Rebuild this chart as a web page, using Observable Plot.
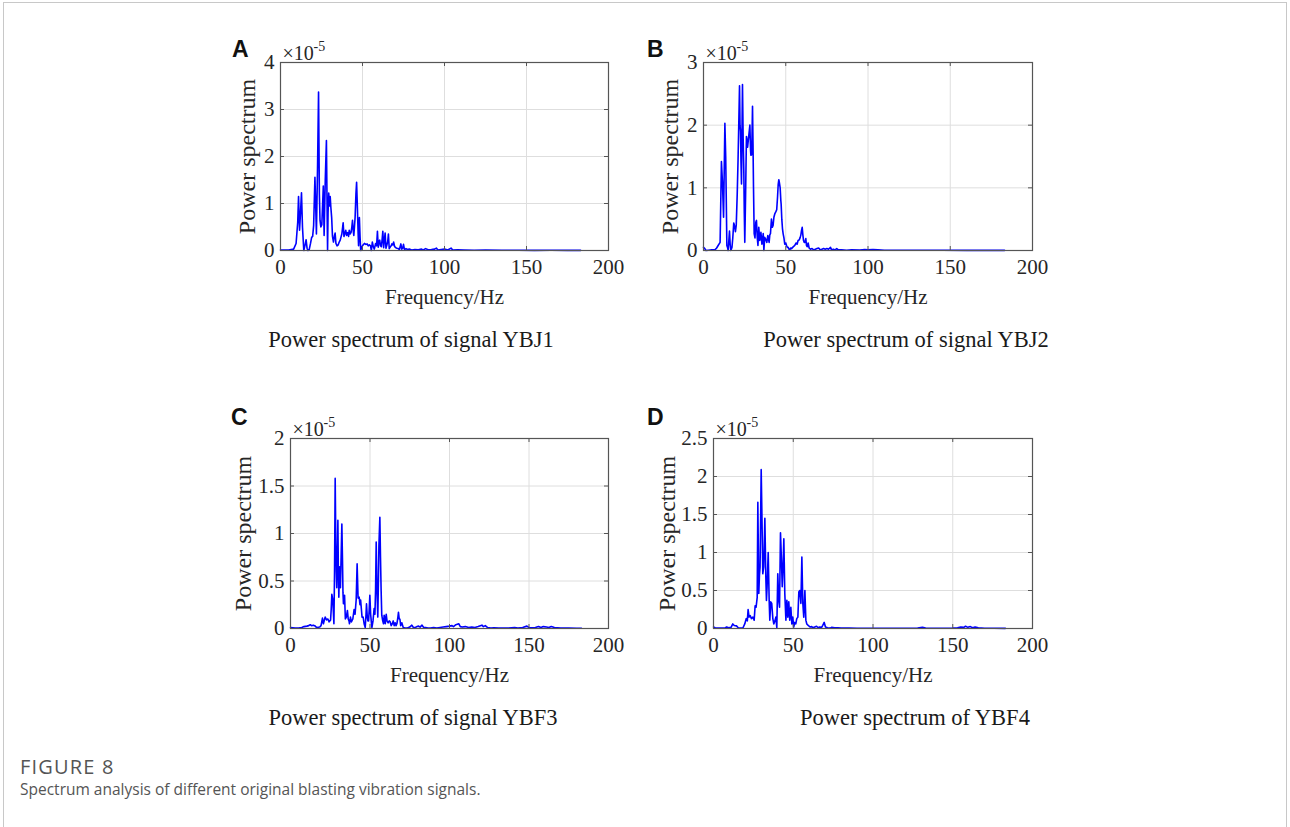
<!DOCTYPE html>
<html><head><meta charset="utf-8">
<script src="https://cdn.jsdelivr.net/npm/d3@7"></script>
<script src="https://cdn.jsdelivr.net/npm/@observablehq/plot@0.6"></script>
<style>
body{margin:0;background:#fff;}
#page{position:relative;width:1290px;height:827px;overflow:hidden;background:#fff;}
#border{position:absolute;left:3px;top:2px;width:1284px;height:900px;border:1.5px solid #c8c8c8;box-sizing:border-box;}
.panel{position:absolute;}
.letter{position:absolute;font:bold 23px "Liberation Sans",Arial,sans-serif;color:#111;line-height:normal;}
.sub{position:absolute;font:22.5px "Liberation Serif",serif;color:#1a1a1a;transform:translateX(-50%);white-space:nowrap;line-height:normal;}
.cap{position:absolute;left:20px;font-family:"Open Sans",sans-serif;color:#555;white-space:nowrap;line-height:normal;}
</style></head>
<body><div id="page"><div id="border"></div></div>
<script>
// Frequency axis (Hz) and tick labels
const xTicks = [0, 50, 100, 150, 200];
const panelLetters = ["A", "B", "C", "D"];
const subtitles = ["Power spectrum of signal YBJ1", "Power spectrum of signal YBJ2", "Power spectrum of signal YBF3", "Power spectrum of YBF4"];
const yMax = [4, 3, 2, 2.5];
const yTicksA = [0, 1, 2, 3, 4];
const yTicksB = [0, 1, 2, 3];
const yTicksC = [0, 0.5, 1, 1.5, 2];
const yTicksD = [0, 0.5, 1, 1.5, 2, 2.5];

// Power spectrum values, [frequency Hz, power ×1e-5]
const ybj1 = [[0,0.01],[5,0.01],[8,0.03],[9.5,0.15],[10.5,0.6],[11,1.15],[11.6,0.43],[12.2,0.8],[12.8,1.23],[13.4,0.5],[14.2,0],[15,0.12],[15.6,0.23],[16.2,0.05],[16.7,0],[17.5,0.02],[18.3,0.15],[19,0.28],[19.6,0.3],[20.2,0.53],[21,1.56],[21.5,0.9],[21.9,0.35],[22.6,1.8],[23.2,3.37],[23.7,1.2],[24.1,0.64],[24.6,0.5],[25.2,0.55],[25.7,1.0],[26.1,1.37],[26.6,0.32],[27.3,1.5],[28,2.34],[28.5,0.6],[28.7,0],[29.0,0.8],[29.4,1.22],[29.9,0.95],[30.3,1.15],[30.7,0.92],[31.2,0.7],[31.7,0.3],[32.3,0.18],[32.8,0.3],[33.3,0.37],[33.8,0.15],[34.5,0.1],[35.2,0.12],[35.8,0.18],[36.4,0.22],[37.0,0.3],[37.4,0.35],[37.9,0.5],[38.2,0.59],[38.7,0.3],[39.2,0.35],[39.8,0.43],[40.3,0.32],[40.9,0.38],[41.5,0.3],[41.9,0.43],[42.4,0.35],[43.0,0.38],[43.5,0.5],[43.9,0.64],[44.4,0.4],[44.7,0.32],[45.1,0.5],[45.5,0.71],[46.0,1.2],[46.4,1.45],[46.9,0.9],[47.3,0.4],[47.6,0.1],[48.1,0.7],[48.5,0.3],[48.9,0],[49.6,0.08],[50.4,0.12],[51.2,0.15],[52,0.13],[52.8,0.14],[53.5,0.1],[54.2,0.12],[54.9,0.1],[55.4,0],[56,0.18],[56.6,0.08],[57.2,0.03],[58,0.15],[58.6,0.1],[59.1,0.41],[59.6,0.07],[60.1,0.2],[60.5,0.22],[61,0.1],[61.5,0.08],[62,0.25],[62.4,0.41],[62.9,0.06],[63.4,0.25],[63.8,0.37],[64.3,0.05],[64.9,0.12],[65.4,0.2],[65.8,0.35],[66.3,0.04],[67,0.08],[67.5,0.1],[67.9,0.14],[68.5,0.12],[69,0.18],[69.6,0.08],[70.3,0.06],[71,0.05],[71.8,0.04],[72.5,0.02],[73.4,0.14],[73.9,0.03],[74.5,0.05],[75,0.13],[75.6,0.02],[76.5,0.04],[77.5,0.02],[78.5,0.03],[80,0.01],[82,0.02],[84,0.015],[86,0.03],[87,0.01],[88.5,0.04],[90,0.015],[92,0.02],[94,0.03],[95,0.05],[96,0.01],[98,0.02],[100,0.03],[102,0.01],[104,0.05],[105,0.01],[108,0.015],[112,0.01],[118,0.005],[125,0.008],[135,0.004],[145,0.005],[155,0.003],[165,0.004],[175,0.003],[183,0.002]];

const ybj2 = [[0,0.05],[0.8,0.03],[1.5,0],[3,0.005],[5,0.01],[6.9,0.01],[8,0.04],[8.9,0.08],[10.1,0.13],[10.9,1.42],[11.5,1.1],[12.2,0.53],[13,2.03],[13.5,1.5],[13.8,0.9],[14.2,0.08],[14.6,0.05],[15,0],[15.8,0.31],[16.2,0.1],[16.6,0],[17.3,0.05],[17.8,0.2],[18.4,0.44],[19,0.38],[19.4,0.3],[19.9,0.4],[20.5,0.9],[21,1.44],[21.5,2.1],[21.9,2.63],[22.2,2.0],[22.5,1.9],[22.8,1.4],[23.1,1.06],[23.4,1.9],[23.7,2.65],[24.1,1.8],[24.5,1.28],[24.8,0.6],[25.1,0.13],[25.6,0.9],[26.1,1.82],[26.5,1.75],[26.8,1.65],[27.4,1.8],[27.8,1.9],[28.2,2.0],[28.6,1.6],[28.8,1.52],[29.3,1.53],[29.8,2.3],[30.1,1.7],[30.4,1.0],[30.8,0.27],[31.3,0.2],[31.8,0.45],[32.2,0.48],[32.7,0.2],[33.1,0.08],[33.6,0.37],[34.2,0.16],[34.9,0.29],[35.5,0.1],[36.3,0.27],[36.7,0],[37.2,0.21],[37.8,0.18],[38.5,0.13],[39.1,0.24],[39.5,0.18],[39.9,0.13],[40.3,0.25],[40.7,0.27],[41.3,0.5],[41.8,0.37],[42.3,0.4],[42.8,0.53],[43.4,0.59],[44,0.62],[44.5,0.65],[45,0.85],[45.4,1.05],[45.8,1.13],[46.2,1.07],[46.6,1.0],[47.0,0.8],[47.2,0.74],[47.6,0.5],[48,0.35],[48.4,0.27],[48.9,0.2],[49.4,0.1],[50,0.12],[50.5,0.08],[51,0.05],[51.5,0.05],[52,0.02],[52.5,0.01],[53,0.04],[53.5,0.03],[54.2,0.05],[55,0.07],[55.5,0.08],[56.3,0.12],[56.9,0.1],[57.5,0.16],[58.2,0.17],[58.8,0.21],[59.2,0.25],[59.6,0.32],[60.0,0.37],[60.4,0.25],[60.8,0.16],[61.2,0.13],[61.6,0.13],[62.2,0.19],[62.6,0.08],[63,0.06],[63.6,0.12],[64.2,0.04],[65,0.02],[66,0.03],[67,0.01],[68,0.02],[69,0.03],[70,0.04],[71,0.01],[72,0.02],[73,0.03],[74,0.02],[75,0.03],[76,0.02],[77.2,0.05],[77.8,0.01],[79,0.02],[80,0.01],[81,0.03],[82,0.01],[84,0.01],[87,0.005],[90,0.01],[95,0.008],[98,0.015],[100,0.01],[103,0.015],[106,0.01],[110,0.005],[120,0.004],[130,0.003],[145,0.003],[160,0.002],[175,0.002],[183,0.002]];

const ybf3 = [[0,0.01],[3,0.005],[5,0.005],[7.1,0.01],[8.5,0.02],[10.3,0.025],[11.5,0.03],[12.4,0.04],[13.2,0.03],[14.3,0.035],[15.2,0.03],[16.5,0.01],[18.4,0.015],[19.2,0.03],[20.1,0.11],[20.7,0.05],[21.8,0.12],[22.7,0.09],[23.5,0.1],[24.3,0.07],[25.2,0.09],[25.6,0.2],[26,0.36],[26.6,0.3],[27.3,0.05],[27.7,0.6],[28.1,1.58],[28.5,0.9],[28.8,0.6],[29.1,0.43],[29.5,0.8],[29.8,1.14],[30.1,0.6],[30.4,0.33],[30.8,0.65],[31.1,0.5],[31.4,0.43],[31.9,0.8],[32.3,1.1],[32.7,0.72],[33,0.38],[33.3,0.26],[33.7,0.3],[34,0.35],[34.5,0.1],[35.1,0.12],[35.8,0.19],[36.3,0.1],[36.8,0.08],[37.1,0.05],[37.7,0.12],[38.3,0.07],[39.2,0.1],[40,0.2],[40.6,0.15],[41.3,0.3],[41.9,0.68],[42.5,0.32],[43.2,0.33],[43.7,0.25],[44.1,0.3],[44.6,0.2],[45,0.12],[45.7,0.12],[46.3,0.05],[47,0.01],[47.5,0.15],[47.8,0.26],[48.3,0.12],[48.7,0.08],[49.1,0.08],[49.5,0.2],[49.9,0.35],[50.4,0.15],[51.2,0.01],[51.9,0.08],[52.6,0.21],[53.1,0.15],[53.5,0.4],[53.9,0.91],[54.4,0.4],[54.9,0.12],[55.3,0.5],[55.6,0.87],[56.2,1.17],[56.6,0.75],[57,0.4],[57.4,0.14],[58,0.08],[58.5,0.05],[58.9,0.14],[59.3,0.1],[59.6,0.05],[60.2,0.15],[60.7,0.08],[61.4,0.06],[62.1,0.08],[62.7,0.07],[63.3,0.03],[64,0.05],[64.6,0.08],[65.2,0.03],[65.8,0.06],[66.4,0.03],[66.9,0.05],[67.4,0.1],[67.9,0.17],[68.4,0.1],[68.8,0.1],[69.3,0.03],[70,0.06],[70.9,0.01],[72,0.005],[73.5,0.005],[75,0.015],[76.3,0.035],[77.3,0.01],[78.5,0.01],[79.5,0.02],[80.6,0.025],[81.5,0.015],[82.7,0.035],[83.8,0.01],[85,0.01],[86.5,0.005],[88,0.005],[90,0.01],[92,0.005],[94,0.01],[96,0.015],[98,0.02],[100,0.025],[101.6,0.03],[102.5,0.02],[104,0.04],[105.8,0.05],[106.8,0.02],[108,0.015],[110,0.02],[112,0.01],[114,0.015],[116,0.01],[118,0.02],[120.4,0.035],[121.3,0.02],[122.5,0.03],[124,0.01],[126,0.005],[128,0.008],[131,0.005],[134,0.006],[137,0.004],[141,0.01],[143,0.005],[146,0.01],[148.7,0.025],[150,0.01],[152,0.008],[154,0.01],[156,0.02],[157.5,0.01],[159,0.02],[161,0.015],[162.5,0.01],[164,0.02],[166,0.01],[170,0.005],[175,0.004],[180,0.003],[183,0.002]];

const ybf4 = [[0,0.02],[1,0.01],[3,0.005],[5,0.005],[7.1,0.005],[8.2,0.02],[9.5,0.01],[11,0.015],[12.1,0.06],[13,0.04],[14.4,0.035],[15.5,0.01],[17,0.005],[18.5,0.01],[19.6,0.06],[20.5,0.13],[21.2,0.1],[21.7,0.25],[22.3,0.15],[23,0.17],[23.8,0.13],[24.7,0.15],[25.5,0.11],[26.1,0.3],[26.7,0.28],[27.4,0.41],[27.8,1.66],[28.4,0.46],[28.8,0.7],[29.2,0.81],[29.9,2.09],[30.5,1.3],[30.9,0.72],[31.5,0.81],[32.2,1.45],[32.8,0.68],[33.2,0.37],[33.6,0.55],[34.3,1.0],[34.9,0.37],[35.3,0.11],[35.9,0.35],[36.5,0.33],[37.2,0.13],[37.8,0.06],[38.5,0.1],[39.1,0.15],[39.7,0.01],[40.3,0.72],[40.9,0.37],[41.4,0.28],[42,1.26],[42.6,0.9],[43.1,0.55],[43.6,0.81],[44.1,1.18],[44.7,0.46],[45.4,0.11],[46,0.37],[46.6,0.15],[47.2,0.35],[47.8,0.11],[48.5,0.28],[49.1,0.06],[49.7,0.15],[50.3,0.02],[51,0.08],[51.6,0.06],[52.2,0.13],[52.9,0.15],[53.5,0.48],[54.1,0.5],[54.8,0.33],[55.4,0.94],[56,0.33],[56.6,0.15],[57.3,0.5],[57.9,0.11],[58.5,0.06],[59.4,0.04],[60.5,0.02],[61.5,0.025],[62.5,0.01],[63.5,0.02],[64.6,0.03],[65.6,0.01],[66.6,0.02],[67.8,0.015],[68.5,0.04],[69.4,0.08],[70.2,0.02],[71.5,0.01],[73,0.005],[74,0.015],[76,0.01],[78,0.01],[80,0.005],[85,0.005],[90,0.003],[100,0.004],[110,0.003],[120,0.004],[128,0.005],[131,0.015],[133,0.005],[140,0.003],[150,0.005],[153,0.01],[155,0.02],[157,0.015],[158,0.03],[159.5,0.015],[161,0.025],[162.5,0.01],[164,0.02],[166,0.008],[170,0.004],[176,0.003],[183,0.002]];

const page = document.getElementById("page");
const FONT = '"Liberation Serif", "Times New Roman", serif';

function panel(data, ymax, yticks, L, T, W, H, ylabOff, letterPos, subPos, subText, letter) {
  const mL = 90, mT = 40, mR = 20, mB = 70;
  const plot = Plot.plot({
    width: mL + W + mR, height: mT + H + mB,
    marginLeft: mL, marginTop: mT, marginRight: mR, marginBottom: mB,
    style: {fontFamily: FONT, fontSize: "21px", color: "#262626", background: "transparent", overflow: "visible"},
    x: {domain: [0, 200], label: null},
    y: {domain: [0, ymax], label: null},
    marks: [
      Plot.gridX(xTicks, {stroke: "#dedede", strokeOpacity: 1}),
      Plot.gridY(yticks, {stroke: "#dedede", strokeOpacity: 1}),
      Plot.line(data, {x: d => d[0], y: d => d[1], stroke: "#0000ff", strokeWidth: 1.6}),
      Plot.tickX(xTicks, {x: d => d, insetTop: H - 4, stroke: "#555"}),
      Plot.tickX(xTicks, {x: d => d, insetBottom: H - 4, stroke: "#555"}),
      Plot.tickY(yticks, {y: d => d, insetRight: W - 4, stroke: "#555"}),
      Plot.tickY(yticks, {y: d => d, insetLeft: W - 4, stroke: "#555"}),
      Plot.frame({stroke: "#555", strokeWidth: 1.2}),
      Plot.axisX(xTicks, {anchor: "bottom", tickSize: 0, tickPadding: 9, fontSize: 21, label: null}),
      Plot.axisY(yticks, {anchor: "left", tickSize: 0, tickPadding: 6, fontSize: 21, label: null, tickFormat: d => String(d)}),
      Plot.text(["Power spectrum"], {frameAnchor: "left", dx: -ylabOff, rotate: -90, fontSize: 24, textAnchor: "middle", lineAnchor: "middle"}),
      Plot.text(["Frequency/Hz"], {frameAnchor: "bottom", dy: 47, fontSize: 21, textAnchor: "middle", lineAnchor: "middle"}),
      Plot.text(["×10"], {frameAnchor: "top-left", textAnchor: "start", lineAnchor: "bottom", dx: 2, dy: -3, fontSize: 20}),
      Plot.text(["-5"], {frameAnchor: "top-left", textAnchor: "start", lineAnchor: "bottom", dx: 33, dy: -12, fontSize: 14})
    ]
  });
  const wrap = document.createElement("div");
  wrap.className = "panel";
  wrap.style.left = (L - mL) + "px";
  wrap.style.top = (T - mT) + "px";
  wrap.appendChild(plot);
  page.appendChild(wrap);

  const lt = document.createElement("div");
  lt.className = "letter";
  lt.textContent = letter;
  lt.style.left = letterPos[0] + "px";
  lt.style.top = letterPos[1] + "px";
  page.appendChild(lt);

  const st = document.createElement("div");
  st.className = "sub";
  st.textContent = subText;
  st.style.left = subPos[0] + "px";
  st.style.top = subPos[1] + "px";
  page.appendChild(st);
}

panel(ybj1, yMax[0], yTicksA, 280, 62, 328, 188, 33, [232, 36], [411, 327], subtitles[0], panelLetters[0]);
panel(ybj2, yMax[1], yTicksB, 703, 62, 329, 188, 33, [647, 36], [906, 327], subtitles[1], panelLetters[1]);
panel(ybf3, yMax[2], yTicksC, 290, 438, 318, 190, 47, [231, 404], [413, 705], subtitles[2], panelLetters[2]);
panel(ybf4, yMax[3], yTicksD, 713, 438, 319, 190, 46, [647, 404], [915, 705], subtitles[3], panelLetters[3]);

const c1 = document.createElement("div");
c1.className = "cap";
c1.style.top = "753px";
c1.style.fontSize = "20px";
c1.style.letterSpacing = "1.2px";
c1.textContent = "FIGURE 8";
page.appendChild(c1);
const c2 = document.createElement("div");
c2.className = "cap";
c2.style.top = "778px";
c2.style.fontSize = "15.5px";
c2.textContent = "Spectrum analysis of different original blasting vibration signals.";
page.appendChild(c2);
</script>
</body></html>
